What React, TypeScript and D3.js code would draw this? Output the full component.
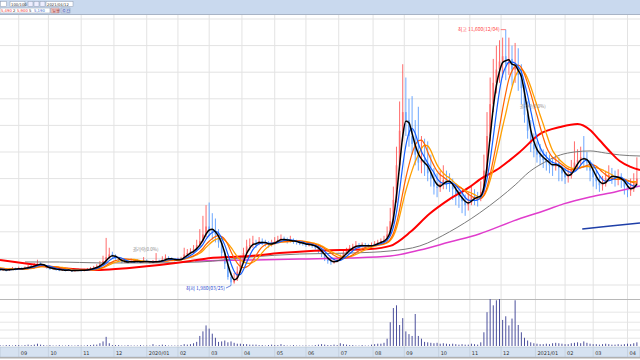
import React from 'react';
import * as d3 from 'd3';

// ---- data (prices in KRW, t = trading-day index, candles every 2 trading days) ----
const startT = -18;
const opens = [2780,2760,2730,2700,2690,2660,2610,2650,2610,
2580,2560,2590,2550,2600,2630,2590,2640,2600,2650,2710,2680,2740,2820,2760,2700,2640,2600,2620,2570,2550,2580,2540,2560,2520,2550,2570,2530,2560,2590,2620,2650,
2700,2780,2880,3050,3160,3100,3000,2920,2860,2890,2850,2900,2870,2890,2860,2900,2880,2850,2870,2900,2880,2950,3020,3000,2950,2930,2960,
2990,3150,3200,3250,3350,3500,3650,3900,4200,4100,4050,3900,3600,3200,2800,2300,2100,2200,2500,2900,3200,3450,3500,3600,3550,3650,3600,3550,3500,3580,3650,3700,3750,3680,3650,3700,3620,3600,3580,3550,3500,3520,3480,3400,3300,3150,3000,2900,2850,2880,2950,3050,3200,3300,3400,3450,3500,3450,3500,3480,3450,3500,3550,3600,3650,
3700,3900,4400,5200,6500,7800,8500,8200,7600,7300,6900,6600,6700,6500,6200,6000,5700,5650,5800,5950,5900,5850,5600,5400,5300,5150,5000,5100,5350,5300,
5250,5500,6300,7600,8800,9600,10100,10400,10600,10300,10500,10100,10200,9900,9400,8400,7800,7300,7100,6900,6800,6700,6600,6500,6450,6600,6400,6200,6050,6100,6350,6600,6700,6800,6750,6600,6300,6050,5900,5750,5800,6000,6150,6100,6000,6050,5950,5700,5550,5600,5800];
const highs = [2810,2790,2760,2740,2720,2690,2680,2670,2630,
2620,2630,2600,2640,2680,2650,2690,2670,2700,2760,2750,2820,2950,2860,2790,2720,2660,2680,2640,2600,2640,2600,2610,2580,2600,2620,2600,2610,2640,2680,2720,2780,
2900,3100,3770,3400,3250,3150,3040,2950,2960,2920,3000,2950,2960,2920,3050,2960,2910,2940,3200,2950,3080,3150,3080,3040,3000,3030,3060,
3400,3350,3380,3500,3700,4100,4600,5000,5100,4700,4500,4100,3700,3300,2900,2500,2450,2700,3100,3400,3700,3750,3850,3700,3800,3750,3700,3650,3700,3800,3850,3900,3820,3780,3850,3750,3700,3680,3650,3600,3620,3580,3520,3450,3350,3200,3050,2980,2980,3050,3150,3300,3400,3500,3550,3650,3580,3600,3580,3550,3600,3650,3700,3750,
3850,4200,4900,5700,7200,8900,10300,9800,9000,9100,8200,8700,7600,7500,7400,6900,6400,6200,6300,6500,6300,6200,6000,5800,5700,5500,5400,5500,5700,5600,
5500,5900,6900,8500,9800,10500,11000,11200,11300,11600,11300,11000,11100,10900,10300,9600,8900,8200,7700,7400,7300,7100,7000,6900,6800,6900,6800,6500,6400,6400,6700,7400,7100,7200,7600,7000,6700,6500,6300,6100,6100,6300,6500,6400,6300,6350,6200,6000,5900,6000,6200,6800];
const lows = [2730,2700,2670,2650,2620,2590,2590,2570,2550,
2530,2540,2510,2530,2580,2550,2570,2570,2590,2630,2640,2660,2720,2730,2670,2610,2570,2580,2540,2520,2530,2510,2520,2490,2500,2530,2500,2510,2540,2570,2600,2640,
2680,2760,2850,2980,3020,2950,2880,2820,2830,2810,2830,2830,2840,2820,2830,2840,2810,2820,2850,2840,2860,2920,2950,2910,2880,2900,2920,
2960,3100,3150,3200,3300,3450,3600,3800,3850,3700,3600,3400,3000,2600,2200,1980,2050,2150,2450,2850,3100,3300,3400,3400,3500,3500,3450,3400,3450,3500,3580,3620,3600,3560,3600,3550,3520,3500,3480,3430,3450,3400,3330,3200,3050,2900,2800,2760,2800,2850,2900,3000,3150,3250,3350,3400,3380,3400,3400,3380,3400,3450,3500,3550,
3600,3650,3850,4300,5100,6300,7400,7600,7200,6900,6500,6300,6200,6100,5900,5700,5400,5300,5500,5600,5600,5500,5200,5000,4900,4700,4600,4800,5000,5000,
4950,5150,5400,6200,7400,8500,9200,9600,9800,9700,9900,9500,9600,9300,8800,8100,7500,7000,6800,6600,6500,6400,6300,6200,6100,6300,5900,5900,5800,5850,6000,6300,6400,6500,6400,6300,5900,5700,5600,5500,5550,5700,5900,5800,5700,5750,5650,5400,5300,5350,5500,5700];
const closes = [2750,2720,2700,2680,2650,2620,2640,2600,2580,
2560,2590,2540,2600,2620,2580,2640,2600,2650,2700,2680,2750,2820,2760,2700,2640,2600,2620,2570,2550,2580,2540,2560,2520,2550,2570,2530,2560,2590,2620,2660,2700,
2780,2900,3050,3150,3100,3000,2920,2860,2880,2850,2900,2870,2890,2860,2900,2880,2850,2870,2900,2880,2950,3020,3000,2950,2930,2960,2980,
3150,3200,3250,3350,3500,3650,3900,4200,4100,4000,3900,3600,3200,2800,2300,2100,2200,2500,2900,3200,3450,3500,3600,3550,3650,3600,3550,3500,3580,3650,3700,3750,3680,3650,3700,3620,3600,3580,3550,3500,3520,3480,3400,3300,3150,3000,2900,2850,2880,2950,3050,3200,3300,3400,3450,3500,3450,3500,3480,3450,3500,3550,3600,3650,3700,
3900,4400,5200,6500,7800,8500,8200,7600,7300,6900,6600,6700,6500,6200,6000,5700,5650,5800,5950,5900,5850,5600,5400,5300,5150,5000,5100,5350,5300,5250,
5500,6300,7600,8800,9600,10100,10400,10600,10300,10500,10100,10200,9900,9400,8400,7800,7300,7100,6900,6800,6700,6600,6500,6450,6600,6400,6200,6050,6100,6350,6600,6700,6800,6750,6600,6300,6050,5900,5750,5800,6000,6150,6100,6000,6050,5950,5700,5550,5600,5800,6000];
const volumes = [2,2,2,2,2,2,2,2,2,
2,1,2,2,1,2,2,1,2,3,2,3,5,3,2,1,2,1,1,2,1,1,2,1,1,2,1,1,2,2,3,3,
6,10,20,6,
2,2,2,1,1,2,1,1,1,2,1,1,1,4,1,2,3,2,1,1,1,1,2,
4,3,4,6,9,22,32,45,38,27,18,
9,10,12,8,10,7,5,5,4,4,3,
3,3,2,2,1,2,3,2,2,4,2,1,1,2,1,1,1,1,1,1,2,3,4,3,2,2,3,2,6,4,3,2,2,1,1,2,1,1,3,4,5,5,
7,16,52,83,89,46,61,32,26,22,70,22,16,
9,8,7,6,7,5,6,5,4,5,4,3,4,3,3,5,4,3,
8,30,74,104,89,100,103,57,65,45,60,100,46,30,18,12,8,
6,5,4,4,5,4,6,7,6,5,4,4,6,7,8,6,10,7,5,4,4,3,4,5,4,3,3,4,3,4,5,4,6,8];

// long moving averages: [t, price]
const ma60 = [[0,2940],[19,2790],[38,2640],[64,2565],[83,2640],[102,2750],[122,2900],[135,3015],[147,3050],[160,3090],[179,3200],[199,3280],[218,3315],[237,3350],[250,3470],[263,4000],[275,4670],[288,5230],[301,5690],[307,5950],[320,6400],[333,7000],[346,7680],[359,7940],[370,8050],[378,7830],[384,7450],[391,7000],[397,6660],[404,6440],[410,6320]];
const ma120 = [[16,2865],[38,2865],[64,2830],[96,2830],[128,2865],[160,3050],[192,3165],[224,3200],[250,3280],[269,3470],[288,4000],[307,4700],[320,5270],[330,5760],[339,6250],[349,6620],[359,6890],[368,7000],[378,7040],[388,6960],[397,6890],[410,6850]];
const ma240 = [[125,2900],[160,2940],[192,2980],[224,3015],[250,3090],[269,3316],[288,3617],[307,3920],[329,4410],[350,4820],[361,5050],[378,5310],[394,5500],[410,5720]];
const ma480 = [[373,4106],[391,4220],[410,4330]];

const monthLabels = ['09','10','11','12','2020/01','02','03','04','05','06','07','08','09','10','11','12','2021/01','02','03','04'];
const monthT = [12,31,52,73,94,114,134,155,176,196,217,239,259,281,301,321,343,362,380,402];
const priceTicks = [2000,3000,4000,5000,6000,7000,8000,9000,10000,11000,12000];
const volTicks = [17,35,52,74];

const W = 640, H = 360;

function rolling(vals: number[], w: number) {
  return vals.map((_, k) => (k < w - 1 ? null : d3.mean(vals.slice(k - w + 1, k + 1)) as number));
}

export default function App() {
  const x = d3.scaleLinear().domain([0, 410]).range([0, 640]);
  const y = d3.scaleLinear().domain([2000, 12000]).range([285, 19]);
  const yv = d3.scaleLinear().domain([0, 105]).range([346, 298]);
  const ts = closes.map((_, k) => startT + 2 * k);

  const line = d3.line<[number, number | null]>()
    .defined(d => d[1] != null)
    .x(d => x(d[0]))
    .y(d => y(d[1] as number))
    .curve(d3.curveMonotoneX);
  const mk = (w: number) => line(rolling(closes, w).map((v, k) => [ts[k], v] as [number, number | null])) || '';
  const longLine = (arr: number[][]) => line(arr.map(d => [d[0], d[1]] as [number, number])) || '';

  const hiIdx = d3.maxIndex(highs);
  const loIdx = d3.minIndex(lows);

  const font = '"Noto Sans CJK KR", "DejaVu Sans", sans-serif';

  return (
    <svg width={W} height={H} style={{ position: 'fixed', left: 0, top: 0, background: '#fff' }} fontFamily={font}>
      <defs>
        <clipPath id="pane"><rect x={0} y={15} width={640} height={283} /></clipPath>
        <clipPath id="vpane"><rect x={0} y={299} width={640} height={48} /></clipPath>
      </defs>
      <rect x={0} y={0} width={W} height={H} fill="#fff" />
      {/* grid */}
      {priceTicks.map(p => (
        <line key={'h' + p} x1={0} x2={640} y1={y(p)} y2={y(p)} stroke="#e3e3e3" strokeWidth={1} />
      ))}
      {volTicks.map(v => (
        <line key={'vh' + v} x1={0} x2={640} y1={yv(v)} y2={yv(v)} stroke="#e6e6e6" strokeWidth={1} />
      ))}
      {monthT.map((t, k) => (
        <line key={'v' + k} x1={x(t)} x2={x(t)} y1={15} y2={347} stroke="#e3e3e3" strokeWidth={1} />
      ))}
      <line x1={0} x2={640} y1={299.5} y2={299.5} stroke="#b8b8b8" strokeWidth={1} />

      {/* candles */}
      <g clipPath="url(#pane)">
        {closes.map((c, k) => {
          const up = c >= opens[k];
          const col = up ? '#ff3b3b' : '#3d8bff';
          const cx = x(ts[k]);
          const top = y(Math.max(c, opens[k]));
          const bot = y(Math.min(c, opens[k]));
          return (
            <g key={'c' + k} opacity={0.75}>
              <line x1={cx} x2={cx} y1={y(highs[k])} y2={y(lows[k])} stroke={col} strokeWidth={1} />
              <rect x={cx - 0.8} y={top} width={1.6} height={Math.max(0.8, bot - top)} fill={col} />
            </g>
          );
        })}
        <path d={longLine(ma480)} fill="none" stroke="#1f3fa8" strokeWidth={1.5} />
        <path d={longLine(ma240)} fill="none" stroke="#e03ccc" strokeWidth={1.5} />
        <path d={longLine(ma120)} fill="none" stroke="#7a7a7a" strokeWidth={1} />
        <path d={longLine(ma60)} fill="none" stroke="#ff0000" strokeWidth={2} />
        <path d={mk(10)} fill="none" stroke="#ffa000" strokeWidth={1.3} />
        <path d={mk(8)} fill="none" stroke="#ff6400" strokeWidth={1.2} />
        <path d={mk(5)} fill="none" stroke="#1560ff" strokeWidth={1.2} />
        <path d={mk(3)} fill="none" stroke="#000" strokeWidth={1.5} />
      </g>

      {/* annotations */}
      <text x={x(ts[hiIdx]) - 6} y={y(highs[hiIdx]) + 1.5} fontSize={5} fill="#ff4444" textAnchor="end">최고 11,600(12/04)</text>
      <line x1={x(ts[hiIdx]) - 5} x2={x(ts[hiIdx])} y1={y(highs[hiIdx])} y2={y(highs[hiIdx])} stroke="#ff4444" strokeWidth={0.7} />
      <text x={x(ts[loIdx]) - 6} y={y(lows[loIdx]) + 4} fontSize={5} fill="#2a4ccf" textAnchor="end">최저 1,980(03/25)</text>
      <line x1={x(ts[loIdx]) - 5} x2={x(ts[loIdx])} y1={y(lows[loIdx]) + 2.5} y2={y(lows[loIdx])} stroke="#2a4ccf" strokeWidth={0.7} />
      <text x={x(85)} y={y(3280)} fontSize={4.5} fill="#888">권리락(0.0%)</text>
      <text x={x(333)} y={y(8650)} fontSize={4.5} fill="#888">권리락(0.0%)</text>

      {/* volume */}
      <g clipPath="url(#vpane)">
        {volumes.map((v, k) => (
          <line key={'vb' + k} x1={x(ts[k])} x2={x(ts[k])} y1={yv(0)} y2={yv(v)} stroke="#4b4f9c" strokeWidth={1} />
        ))}
      </g>

      {/* x axis band */}
      <rect x={0} y={347} width={640} height={10} fill="#d6e2f1" stroke="#a9b6c8" strokeWidth={0.5} />
      {monthT.map((t, k) => (
        <g key={'ml' + k}>
          <line x1={x(t)} x2={x(t)} y1={347} y2={357} stroke="#b5c0d0" strokeWidth={0.5} />
          <text x={x(t) + 2} y={354.5} fontSize={5} fill="#333" fontFamily='"DejaVu Sans", sans-serif'>{monthLabels[k]}</text>
        </g>
      ))}
      <rect x={0} y={357} width={640} height={1.5} fill="#b0b0b0" />

      {/* header toolbar */}
      <rect x={0} y={0} width={640} height={14} fill="#c9d9ee" />
      <line x1={0} x2={640} y1={14.5} y2={14.5} stroke="#a8b4c6" strokeWidth={1} />
      <g fontSize={3.8} fontFamily='"DejaVu Sans", sans-serif'>
        <rect x={0.5} y={1.5} width={6} height={5} fill="#fff" stroke="#8d9ab0" strokeWidth={0.5} />
        <rect x={10} y={1.5} width={15} height={5} fill="#fff" stroke="#8d9ab0" strokeWidth={0.5} />
        <text x={11} y={5.5} fill="#333">100/100</text>
        <rect x={28} y={1.5} width={5} height={5} fill="#eef" stroke="#8d9ab0" strokeWidth={0.5} />
        <rect x={34} y={1.5} width={5} height={5} fill="#eef" stroke="#8d9ab0" strokeWidth={0.5} />
        <rect x={40} y={1.5} width={5} height={5} fill="#eef" stroke="#8d9ab0" strokeWidth={0.5} />
        <rect x={46} y={1.5} width={27} height={5} fill="#fff" stroke="#8d9ab0" strokeWidth={0.5} />
        <text x={47} y={5.5} fill="#333">2021/04/12</text>
        <rect x={0} y={8} width={50} height={5} fill="#fff" stroke="#8d9ab0" strokeWidth={0.5} />
        <text x={1} y={12} fill="#e33">5,490</text>
        <text x={13} y={12} fill="#333">2</text>
        <text x={17} y={12} fill="#e33">5,900</text>
        <text x={29} y={12} fill="#333">5</text>
        <text x={34} y={12} fill="#36c">5,190</text>
        <rect x={51} y={8} width={8} height={5} fill="#f3cccc" stroke="#b09090" strokeWidth={0.5} />
        <text x={52} y={12} fill="#933">일봉</text>
        <rect x={61} y={8} width={9} height={5} fill="#cddcf3" stroke="#8d9ab0" strokeWidth={0.5} />
        <text x={62} y={12} fill="#339">주간</text>
      </g>
    </svg>
  );
}
